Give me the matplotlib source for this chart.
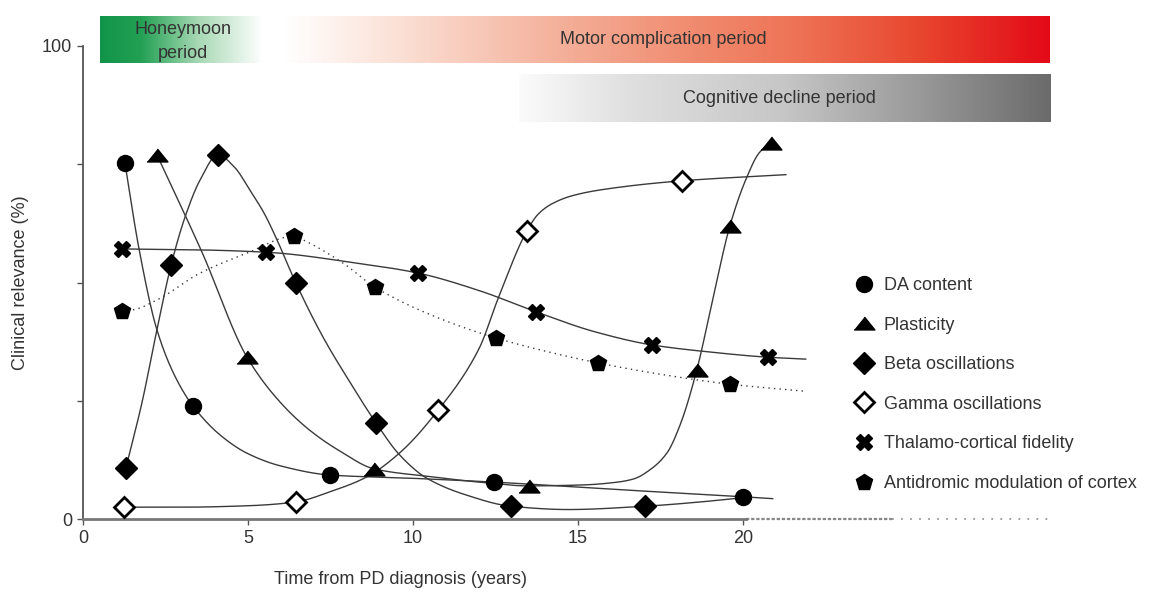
import numpy as np
import matplotlib
matplotlib.use("Agg")
import matplotlib.pyplot as plt
from matplotlib.colors import LinearSegmentedColormap
from matplotlib.lines import Line2D

plt.rcParams['font.family'] = ['Liberation Sans', 'DejaVu Sans']

# --- data (years, % clinical relevance) ---
labels = ["DA content", "Plasticity", "Beta oscillations", "Gamma oscillations",
          "Thalamo-cortical fidelity", "Antidromic modulation of cortex"]

# measured points
da_x = [1.27, 3.33, 7.48, 12.45, 20.0]
da_y = [75.3, 23.9, 9.3, 7.8, 4.7]
pl_x = [2.24, 4.97, 8.82, 13.5, 18.6, 19.6, 20.85]
pl_y = [77.0, 34.2, 10.6, 7.0, 31.5, 61.9, 79.5]
beta_x = [1.3, 2.67, 4.09, 6.45, 8.88, 12.97, 17.03]
beta_y = [10.8, 53.7, 77.0, 49.9, 20.3, 2.7, 2.7]
gam_x = [1.24, 6.45, 10.76, 13.45, 18.15]
gam_y = [2.5, 3.6, 23.0, 60.9, 71.5]
tc_x = [1.18, 5.55, 10.15, 13.73, 17.24, 20.76]
tc_y = [57.1, 56.4, 52.0, 43.8, 36.8, 34.2]
anti_x = [1.18, 6.39, 8.85, 12.5, 15.6, 19.6]
anti_y = [44.0, 59.8, 49.0, 38.3, 33.0, 28.5]

# trend lines as traced on the figure
da_tx = [1.27, 1.7, 2.24, 2.8, 3.33, 4.2, 5.0, 6.0, 7.48, 10.0, 12.45, 16.0, 20.0, 20.9]
da_ty = [75.3, 57, 40, 30, 23.9, 17.5, 13.8, 11.2, 9.3, 8.6, 7.8, 6.3, 4.7, 4.3]
pl_tx = [2.24, 3.6, 4.97, 6.0, 6.9, 7.8, 8.82, 10.6, 12.0, 13.5, 15.15, 16.2, 16.7, 17.2,
         17.7, 18.1, 18.6, 19.1, 19.6, 20.1, 20.5, 20.85]
pl_ty = [77, 56.5, 34.2, 24.5, 18.6, 14.3, 10.6, 8.9, 7.8, 7.0, 7.2, 7.8, 8.5, 10.5,
         14, 20, 31.5, 47, 61.9, 72, 77.5, 79.5]
beta_tx = [1.3, 1.8, 2.24, 2.67, 3.1, 3.55, 4.09, 4.6, 5.06, 5.5, 5.88, 6.45, 7.27, 8.1,
           8.88, 9.6, 10.4, 11.6, 12.97, 14.7, 17.03, 18.7, 20.0]
beta_ty = [10.8, 25, 40, 53.7, 64, 71.7, 77, 74.3, 69.5, 64.5, 59.0, 49.9, 38.5, 28.8,
           20.3, 13.5, 8.7, 5.1, 2.7, 2.0, 2.7, 3.6, 4.5]
gam_tx = [1.24, 3.0, 5.0, 6.45, 7.5, 8.6, 9.6, 10.76, 12.0, 12.6, 13.45, 13.8, 14.2,
          14.8, 15.7, 18.15, 21.3]
gam_ty = [2.5, 2.5, 2.8, 3.6, 5.8, 8.9, 14.0, 23.0, 36, 47, 60.9, 64.5, 66.6,
          68.3, 69.6, 71.5, 72.8]
tc_tx = [1.18, 3.5, 5.55, 8.3, 10.15, 12.0, 13.73, 15.5, 17.24, 19.0, 20.76, 21.9]
tc_ty = [57.1, 56.9, 56.4, 54.1, 52.0, 48.3, 43.8, 39.6, 36.8, 35.3, 34.2, 33.8]
anti_tx = [1.18, 1.5, 2.24, 3.55, 4.97, 6.39, 6.67, 7.88, 8.85, 10.7, 12.5, 14.0,
           15.6, 17.5, 19.6, 21.9]
anti_ty = [44.0, 44.2, 46.3, 52.0, 56.2, 59.8, 59.0, 54.1, 49.0, 42.7, 38.3, 35.5,
           33.0, 30.6, 28.5, 27.0]

periods = ["Honeymoon\nperiod", "Motor complication period", "Cognitive decline period"]


def pchip(x, y, n=400):
    # monotone cubic through the traced points, just to draw a smooth line
    x = np.asarray(x, float)
    y = np.asarray(y, float)
    h = np.diff(x)
    d = np.diff(y) / h
    m = np.zeros_like(y)
    m[0], m[-1] = d[0], d[-1]
    for k in range(1, len(x) - 1):
        if d[k - 1] * d[k] > 0:
            w1 = 2 * h[k] + h[k - 1]
            w2 = h[k] + 2 * h[k - 1]
            m[k] = (w1 + w2) / (w1 / d[k - 1] + w2 / d[k])
    xs = np.linspace(x[0], x[-1], n)
    i = np.clip(np.searchsorted(x, xs) - 1, 0, len(x) - 2)
    t = (xs - x[i]) / h[i]
    h00 = 2 * t**3 - 3 * t**2 + 1
    h10 = t**3 - 2 * t**2 + t
    h01 = -2 * t**3 + 3 * t**2
    h11 = t**3 - t**2
    ys = h00 * y[i] + h10 * h[i] * m[i] + h01 * y[i + 1] + h11 * h[i] * m[i + 1]
    return xs, ys


fig = plt.figure(figsize=(11.75, 5.95), dpi=100)
ax = fig.add_axes([83 / 1175, 1 - 519 / 595, 1056 / 1175, 473 / 595])
ax.set_xlim(0, 32)
ax.set_ylim(0, 100)

line_kw = dict(color='#3a3a3a', lw=1.0, zorder=2)
series = [
    (da_tx, da_ty, da_x, da_y, dict(marker='o', ms=11.5, mfc='k', mec='k'), '-'),
    (pl_tx, pl_ty, pl_x, pl_y,
     dict(marker=[(-1, -0.62), (1, -0.62), (0, 0.62)], ms=15, mfc='k', mec='k'), '-'),
    (beta_tx, beta_ty, beta_x, beta_y, dict(marker='D', ms=11, mfc='k', mec='k'), '-'),
    (gam_tx, gam_ty, gam_x, gam_y, dict(marker='D', ms=10.5, mfc='white', mec='k', mew=2), '-'),
    (tc_tx, tc_ty, tc_x, tc_y, dict(marker='X', ms=12, mfc='k', mec='k'), '-'),
    (anti_tx, anti_ty, anti_x, anti_y, dict(marker='p', ms=12, mfc='k', mec='k'), (0, (1, 3))),
]

handles = []
for tx, ty, mx, my, mk, ls in series:
    xs, ys = pchip(tx, ty)
    ax.plot(xs, ys, linestyle=ls, **line_kw)
    ax.plot(mx, my, linestyle='none', zorder=3, **mk)
    handles.append(Line2D([], [], linestyle='none', **mk))

# spines / ticks
for s in ['top', 'right']:
    ax.spines[s].set_visible(False)
ax.spines['left'].set_bounds(0, 100)
ax.spines['bottom'].set_bounds(0, 20.1)
ax.spines['left'].set_color('#555555')
ax.spines['bottom'].set_color('#777777')
ax.spines['left'].set_linewidth(1.3)
ax.spines['bottom'].set_linewidth(2)
ax.set_xticks([0, 5, 10, 15, 20])
ax.set_yticks([0, 25, 50, 75, 100])
ax.set_yticklabels(['0', '', '', '', '100'])
ax.tick_params(direction='out', length=4, width=1, colors='#555555',
               labelsize=13, labelcolor='#333333', pad=4)
ax.plot([20.1, 24.5], [0, 0], color='#888888', lw=1.6, ls=(0, (1.5, 0.8)), clip_on=False)
ax.plot([24.5, 29.3], [0, 0], color='#999999', lw=1.3, ls=(0, (1, 4)), clip_on=False)

fig.text(401 / 1175, 1 - 580 / 595, "Time from PD diagnosis (years)", ha='center',
         va='center', fontsize=13, color='#333333')
fig.text(21 / 1175, 1 - 283 / 595, "Clinical relevance (%)", ha='center', va='center',
         rotation=90, fontsize=13, color='#333333')

# period bands
def band(x0, x1, y0, y1, colors, text, tx, ty, spacing=1.2):
    cmap = LinearSegmentedColormap.from_list('b', colors)
    grad = np.linspace(0, 1, 512).reshape(1, -1)
    im = ax.imshow(grad, cmap=cmap, extent=[x0, x1, y0, y1], aspect='auto',
                   origin='lower', zorder=1)
    im.set_clip_on(False)
    ax.text(tx, ty, text, ha='center', va='center', fontsize=13, color='#333333',
            linespacing=spacing, clip_on=False, zorder=4)

band(0.52, 5.45, 96.4, 106.3,
     [(0, '#11944a'), (0.25, '#22a053'), (0.6, '#a6d8b3'), (1, '#ffffff')],
     periods[0], 3.03, 101.0, spacing=1.55)
band(6.06, 29.3, 96.4, 106.3,
     [(0, '#ffffff'), (0.15, '#fbe0d5'), (0.36, '#f4b09a'), (0.54, '#f08a6e'),
      (0.67, '#ee7356'), (0.83, '#e8472f'), (1, '#e30a17')],
     periods[1], 17.6, 101.3)
band(13.2, 29.3, 83.9, 93.9,
     [(0, '#fbfbfb'), (0.2, '#e0e0e0'), (0.5, '#c6c6c6'), (0.75, '#9a9a9a'), (1, '#6b6b6b')],
     periods[2], 21.1, 88.8)
ax.set_xlim(0, 32)
ax.set_ylim(0, 100)

leg = ax.legend(handles, labels, loc='upper left', bbox_to_anchor=(846 / 1175, 1 - 268 / 595),
                bbox_transform=fig.transFigure, frameon=False, fontsize=13,
                handlelength=1.0, handletextpad=0.6, labelspacing=1.25, borderpad=0)
for t in leg.get_texts():
    t.set_color('#333333')

fig.savefig("out.png", dpi=100)
